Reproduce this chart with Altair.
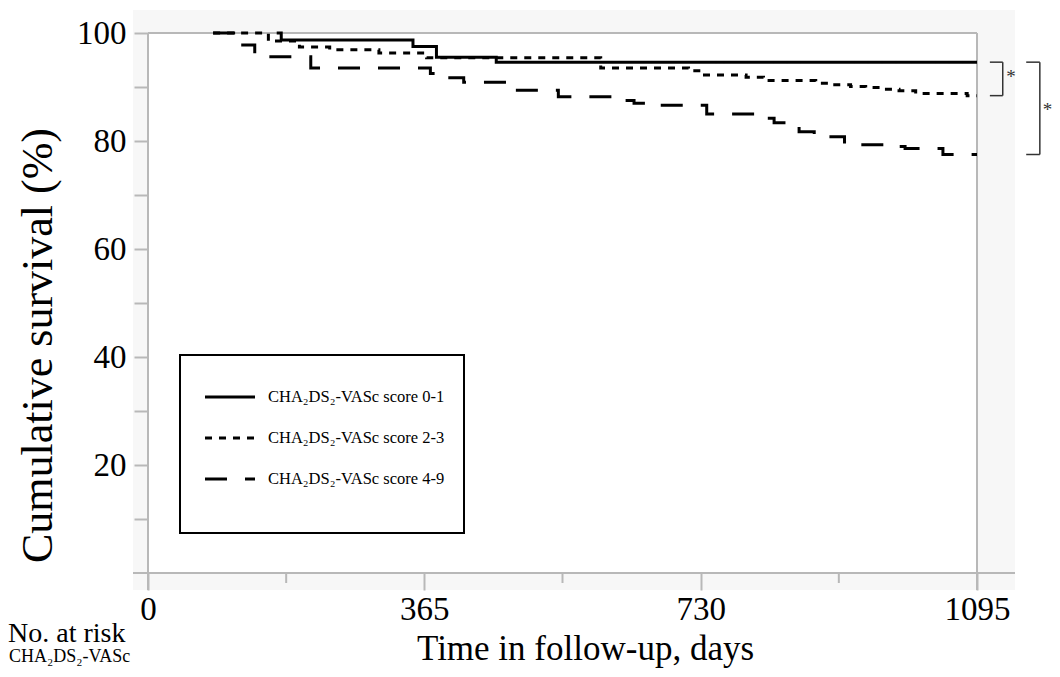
import altair as alt
import pandas as pd

# ---------------- data ----------------
groups = ["CHA₂DS₂-VASc score 0-1", "CHA₂DS₂-VASc score 2-3", "CHA₂DS₂-VASc score 4-9"]

days_01 = [170, 176, 350, 381, 460, 1095]
surv_01 = [100, 98.7, 97.5, 95.5, 94.6, 94.6]

days_23 = [86, 159, 200, 240, 305, 368, 598, 714, 730, 790, 813, 882, 903, 928, 948, 972, 992, 1014, 1082, 1095]
surv_23 = [100, 98.5, 97.4, 96.9, 96.3, 95.4, 93.5, 93.0, 92.2, 91.8, 91.2, 90.7, 90.4, 90.1, 89.9, 89.6, 89.3, 88.8, 88.4, 88.4]

days_49 = [86, 122, 141, 215, 373, 395, 417, 483, 542, 628, 642, 665, 738, 807, 827, 860, 880, 920, 935, 985, 1000, 1050, 1095]
surv_49 = [100, 97.8, 95.6, 93.5, 92.5, 91.7, 90.9, 89.4, 88.2, 87.5, 87.0, 86.6, 85.0, 84.2, 83.4, 81.7, 80.8, 79.8, 79.3, 79.0, 78.6, 77.5, 77.5]

x_ticks = [0, 365, 730, 1095]
x_minor = [182.5, 547.5, 912.5]
y_ticks = [10, 20, 30, 40, 50, 60, 70, 80, 90, 100]

# comparison brackets (days on x beyond follow-up, survival at curve ends)
br_left = [1112, 1160]
br_right = [1129, 1178]
br_top = [surv_01[-1], surv_01[-1]]
br_bottom = [surv_23[-1], surv_49[-1]]
star_x = [1140, 1188]
star_y = [91.9, 85.7]
star_text = ["*", "*"]

risk_title = "No. at risk"
risk_row = "CHA₂DS₂-VASc"

# ---------------- tables ----------------
rows = []
for g, ds, ss in zip(groups, [days_01, days_23, days_49], [surv_01, surv_23, surv_49]):
    for d, s in zip(ds, ss):
        rows.append({"group": g, "day": d, "surv": s})
curves = pd.DataFrame(rows)

br_rows = []
for xl, xr, t, b in zip(br_left, br_right, br_top, br_bottom):
    br_rows.append({"x": xl, "x2": xr, "y": t, "y2": t})
    br_rows.append({"x": xr, "x2": xr, "y": t, "y2": b})
    br_rows.append({"x": xl, "x2": xr, "y": b, "y2": b})
brackets = pd.DataFrame(br_rows)
stars = pd.DataFrame({"x": star_x, "y": star_y, "t": star_text})
minor = pd.DataFrame({"day": x_minor})
leg = pd.DataFrame({"group": groups, "row": list(range(len(groups)))})

FONT = "Liberation Serif"
W, H = 829, 540
GRAY = "#b8b8b8"
one = pd.DataFrame({"k": [0]})

xs = alt.Scale(domain=[0, 1095], nice=False, zero=False)
ys = alt.Scale(domain=[0, 100], nice=False)
dash = alt.Scale(domain=groups, range=[[1, 0], [7, 7], [22, 18]])

panel = alt.Chart(one).mark_rect(fill="#f7f7f7").encode(
    x=alt.value(-15), x2=alt.value(W + 38), y=alt.value(-23), y2=alt.value(H + 17))
plotbg = alt.Chart(one).mark_rect(fill="white").encode(
    x=alt.value(0), x2=alt.value(W), y=alt.value(0), y2=alt.value(H))

borders = alt.layer(
    alt.Chart(one).mark_rule(color=GRAY, strokeWidth=2).encode(x=alt.value(0), x2=alt.value(W), y=alt.value(0)),
    alt.Chart(one).mark_rule(color=GRAY, strokeWidth=2).encode(x=alt.value(W), y=alt.value(0), y2=alt.value(H + 17)),
    alt.Chart(one).mark_rule(color=GRAY, strokeWidth=2).encode(x=alt.value(-15), x2=alt.value(W + 38), y=alt.value(H)),
    alt.Chart(one).mark_rule(color=GRAY, strokeWidth=2).encode(x=alt.value(0), y=alt.value(0), y2=alt.value(H + 17)),
)

minor_ticks = alt.Chart(minor).mark_rule(color=GRAY, strokeWidth=2).encode(
    x=alt.X("day:Q", scale=xs), y=alt.value(H), y2=alt.value(H + 10))

lines = alt.Chart(curves).mark_line(interpolate="step-after", color="black", strokeWidth=3).encode(
    x=alt.X("day:Q", scale=xs,
            axis=alt.Axis(values=x_ticks, format="d", title="Time in follow-up, days", domain=False, grid=False,
                          tickSize=17, tickWidth=2, tickColor=GRAY, labelFont=FONT, labelFontSize=33,
                          labelColor="black", labelPadding=3, labelFlush=False,
                          titleFont=FONT, titleFontSize=35, titleFontWeight="normal", titleColor="black",
                          titleX=437, titleY=86, titleAlign="center", titleBaseline="alphabetic", zindex=1)),
    y=alt.Y("surv:Q", scale=ys,
            axis=alt.Axis(values=y_ticks, title="Cumulative survival (%)", domain=False, grid=False,
                          labelExpr="datum.value % 20 == 0 ? datum.label : ''",
                          tickSize=14, tickWidth=2, tickColor=GRAY, labelFont=FONT, labelFontSize=33,
                          labelColor="black", labelPadding=8,
                          titleFont=FONT, titleFontSize=44, titleFontWeight="normal", titleColor="black",
                          titleX=-110, titleY=312, titleAngle=270, titleAlign="center",
                          titleBaseline="middle", zindex=1)),
    strokeDash=alt.StrokeDash("group:N", scale=dash, legend=None),
)

# legend drawn from the group list
leg_box = alt.Chart(one).mark_rect(fill="white", stroke="black", strokeWidth=2).encode(
    x=alt.value(32), x2=alt.value(316), y=alt.value(322), y2=alt.value(500))
leg_lines = alt.Chart(leg).transform_calculate(py="364 + 41 * datum.row").mark_rule(
    color="black", strokeWidth=3).encode(
    x=alt.value(57), x2=alt.value(107), y=alt.Y("py:Q", scale=None),
    strokeDash=alt.StrokeDash("group:N", scale=dash, legend=None))
leg_text = alt.Chart(leg).transform_calculate(py="364 + 41 * datum.row").mark_text(
    font=FONT, fontSize=16.5, color="black", align="left", baseline="middle").encode(
    x=alt.value(120), y=alt.Y("py:Q", scale=None), text="group:N")

bracket_marks = alt.Chart(brackets).mark_rule(color="#333333", strokeWidth=1.5).encode(
    x=alt.X("x:Q", scale=xs), x2="x2:Q", y=alt.Y("y:Q", scale=ys), y2="y2:Q")
star_marks = alt.Chart(stars).mark_text(font=FONT, fontSize=19, color="#333333", align="center", baseline="middle").encode(
    x=alt.X("x:Q", scale=xs), y=alt.Y("y:Q", scale=ys), text="t:N")

texts = pd.DataFrame({"t": [risk_title, risk_row], "row": [0, 1]})
no_risk = alt.Chart(texts).transform_filter("datum.row == 0").mark_text(
    font=FONT, fontSize=28, color="black", align="left", baseline="middle").encode(
    x=alt.value(-140), y=alt.value(601), text="t:N")
risk_label = alt.Chart(texts).transform_filter("datum.row == 1").mark_text(
    font=FONT, fontSize=18, color="black", align="left", baseline="alphabetic").encode(
    x=alt.value(-139), y=alt.value(629), text="t:N")

chart = alt.layer(panel, plotbg, minor_ticks, borders, lines, leg_box, leg_lines, leg_text,
                  bracket_marks, star_marks, no_risk, risk_label).properties(
    width=W, height=H,
    padding={"left": 140, "top": 25, "right": 75, "bottom": 96},
    autosize=alt.AutoSizeParams(type="none"),
).configure_view(stroke=None)

chart.save("out.html", embed_options={"renderer": "svg", "actions": False})
